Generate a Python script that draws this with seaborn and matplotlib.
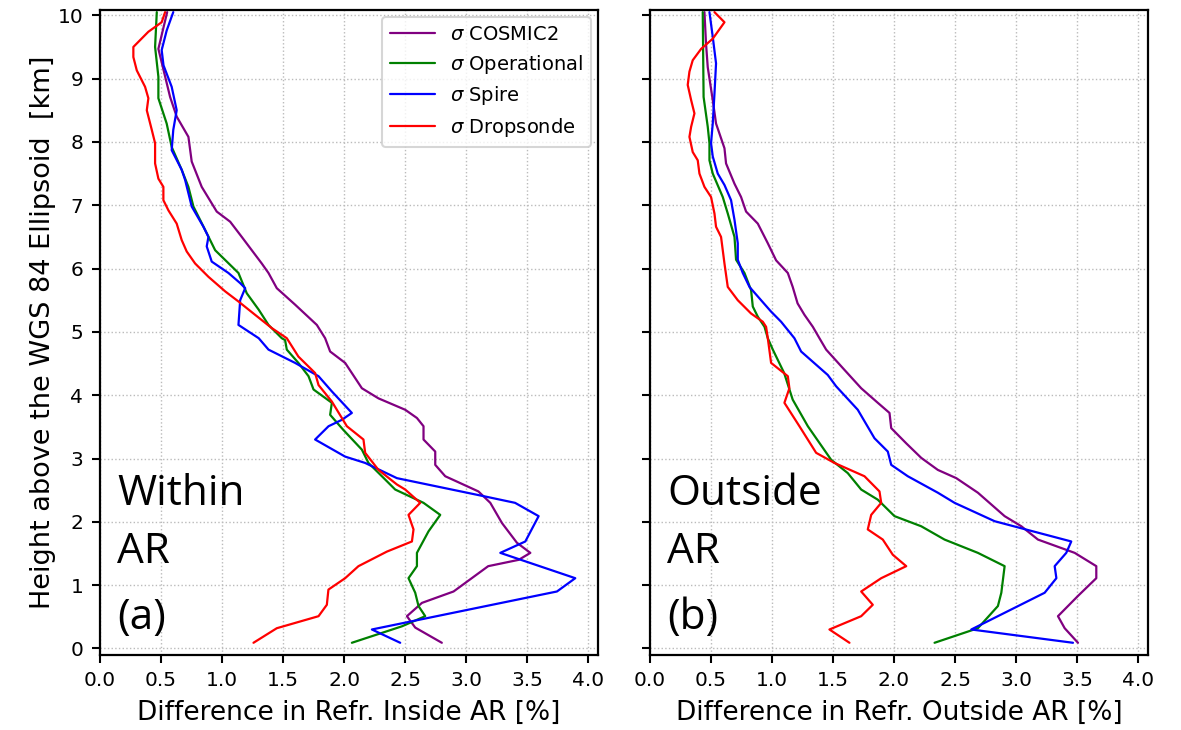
import numpy as np
import pandas as pd
import matplotlib
matplotlib.use("Agg")
import matplotlib.pyplot as plt
import seaborn as sns

# ---------------- data ----------------
series_names = [r"$\sigma$ COSMIC2", r"$\sigma$ Operational", r"$\sigma$ Spire", r"$\sigma$ Dropsonde"]
series_colors = ["purple", "green", "blue", "red"]

# Panel (a): inside AR
in_cosmic_x = [0.55, 0.478, 0.574, 0.628, 0.724, 0.751, 0.833, 0.956, 1.066, 1.161, 1.325, 1.38, 1.448,
               1.598, 1.776, 1.844, 1.885, 2.008, 2.145, 2.281, 2.5, 2.596, 2.65, 2.65, 2.746, 2.746,
               2.828, 3.10, 3.197, 3.293, 3.415, 3.525, 3.43, 3.18, 2.896, 2.637, 2.514, 2.582, 2.80]
in_cosmic_y = [10.05, 9.47, 8.71, 8.40, 8.08, 7.69, 7.29, 6.90, 6.74, 6.50, 6.08, 5.93, 5.69,
               5.43, 5.11, 4.90, 4.69, 4.51, 4.11, 3.95, 3.77, 3.64, 3.51, 3.30, 3.11, 2.90,
               2.72, 2.48, 2.30, 1.98, 1.67, 1.51, 1.40, 1.30, 0.90, 0.72, 0.51, 0.33, 0.09]

in_oper_x = [0.465, 0.451, 0.478, 0.478, 0.546, 0.587, 0.669, 0.724, 0.765, 0.861, 0.943, 1.134, 1.202,
             1.30, 1.38, 1.489, 1.516, 1.53, 1.625, 1.708, 1.749, 1.899, 1.885, 1.994, 2.145, 2.199,
             2.309, 2.418, 2.65, 2.787, 2.691, 2.596, 2.596, 2.527, 2.582, 2.609, 2.664, 2.473, 2.063]
in_oper_y = [10.05, 9.50, 9.03, 8.69, 8.29, 7.92, 7.56, 7.29, 6.98, 6.61, 6.29, 5.93, 5.61,
             5.35, 5.11, 4.90, 4.87, 4.72, 4.51, 4.30, 4.09, 3.88, 3.69, 3.45, 3.14, 2.93,
             2.72, 2.51, 2.30, 2.11, 1.85, 1.51, 1.30, 1.11, 0.88, 0.67, 0.51, 0.35, 0.09]

in_spire_x = [0.60, 0.546, 0.505, 0.52, 0.587, 0.628, 0.60, 0.587, 0.669, 0.697, 0.751, 0.847, 0.888,
              0.874, 0.915, 1.052, 1.148, 1.189, 1.148, 1.134, 1.30, 1.38, 1.598, 1.79, 1.899, 2.063,
              1.98, 1.872, 1.762, 2.008, 2.172, 2.432, 3.156, 3.40, 3.593, 3.484, 3.279, 3.893, 3.743,
              2.227, 2.459]
in_spire_y = [10.05, 9.76, 9.45, 9.21, 8.87, 8.50, 8.19, 7.87, 7.56, 7.40, 6.98, 6.66, 6.50,
              6.35, 6.11, 5.93, 5.77, 5.69, 5.50, 5.11, 4.90, 4.72, 4.51, 4.30, 4.06, 3.72,
              3.61, 3.51, 3.30, 3.03, 2.93, 2.69, 2.40, 2.30, 2.09, 1.69, 1.51, 1.11, 0.90,
              0.30, 0.09]

in_drop_x = [0.533, 0.505, 0.396, 0.273, 0.273, 0.301, 0.369, 0.396, 0.383, 0.424, 0.451, 0.451, 0.478,
             0.519, 0.519, 0.56, 0.628, 0.669, 0.71, 0.779, 0.888, 1.025, 1.134, 1.27, 1.407, 1.53,
             1.625, 1.762, 1.79, 1.899, 2.022, 2.158, 2.172, 2.281, 2.432, 2.50, 2.623, 2.527, 2.568,
             2.555, 2.35, 2.117, 2.008, 1.871, 1.858, 1.79, 1.448, 1.257]
in_drop_y = [10.05, 9.89, 9.74, 9.50, 9.34, 9.13, 8.87, 8.69, 8.50, 8.19, 7.98, 7.66, 7.42,
             7.29, 7.08, 6.92, 6.71, 6.45, 6.27, 6.08, 5.87, 5.64, 5.48, 5.27, 5.06, 4.90,
             4.61, 4.35, 4.16, 3.90, 3.51, 3.30, 3.09, 2.82, 2.59, 2.51, 2.30, 2.11, 1.88,
             1.69, 1.53, 1.30, 1.11, 0.93, 0.69, 0.51, 0.32, 0.09]

# Panel (b): outside AR
out_cosmic_x = [0.447, 0.46, 0.474, 0.515, 0.542, 0.611, 0.624, 0.693, 0.747, 0.788, 0.884, 0.966, 1.034,
                1.13, 1.17, 1.21, 1.266, 1.335, 1.389, 1.444, 1.594, 1.731, 1.867, 1.963, 1.977, 2.10,
                2.223, 2.359, 2.51, 2.687, 2.906, 3.043, 3.179, 3.48, 3.657, 3.657, 3.507, 3.343, 3.398,
                3.507]
out_cosmic_y = [10.05, 9.55, 9.18, 8.66, 8.29, 7.90, 7.66, 7.34, 7.13, 6.90, 6.71, 6.40, 6.13,
                5.93, 5.71, 5.45, 5.27, 5.08, 4.90, 4.72, 4.40, 4.11, 3.88, 3.72, 3.48, 3.24,
                3.01, 2.82, 2.69, 2.46, 2.09, 1.93, 1.72, 1.51, 1.30, 1.11, 0.83, 0.51, 0.32,
                0.09]

out_oper_x = [0.433, 0.44, 0.474, 0.488, 0.488, 0.515, 0.597, 0.638, 0.693, 0.706, 0.775, 0.829, 0.843,
              0.884, 0.939, 0.966, 1.007, 1.10, 1.17, 1.294, 1.485, 1.621, 1.731, 1.867, 2.004, 2.223,
              2.414, 2.687, 2.906, 2.879, 2.851, 2.687, 2.332]
out_oper_y = [10.05, 8.71, 8.24, 7.98, 7.71, 7.50, 7.13, 6.87, 6.50, 6.14, 5.93, 5.66, 5.40,
              5.24, 5.08, 4.90, 4.72, 4.35, 3.93, 3.51, 2.98, 2.77, 2.51, 2.35, 2.09, 1.93,
              1.72, 1.51, 1.30, 0.88, 0.67, 0.32, 0.09]

out_spire_x = [0.488, 0.515, 0.542, 0.529, 0.515, 0.501, 0.515, 0.556, 0.611, 0.665, 0.693, 0.72, 0.72,
               0.761, 0.816, 0.911, 0.993, 1.075, 1.184, 1.239, 1.457, 1.526, 1.703, 1.84, 1.949, 1.977,
               2.113, 2.359, 2.496, 2.824, 3.452, 3.411, 3.316, 3.33, 3.234, 2.633, 3.466]
out_spire_y = [10.05, 9.66, 9.24, 8.76, 8.29, 7.98, 7.77, 7.50, 7.32, 7.08, 6.77, 6.40, 6.14,
               5.93, 5.71, 5.50, 5.32, 5.16, 4.90, 4.69, 4.32, 4.14, 3.77, 3.32, 3.11, 2.90,
               2.72, 2.46, 2.30, 2.01, 1.69, 1.51, 1.30, 1.11, 0.88, 0.30, 0.09]

out_drop_x = [0.529, 0.611, 0.515, 0.42, 0.351, 0.324, 0.31, 0.338, 0.365, 0.338, 0.324, 0.351, 0.392,
              0.406, 0.447, 0.501, 0.529, 0.542, 0.583, 0.611, 0.638, 0.72, 0.829, 0.925, 0.952, 0.966,
              0.993, 1.13, 1.143, 1.102, 1.225, 1.362, 1.512, 1.758, 1.881, 1.895, 1.813, 1.785, 1.908,
              1.99, 2.10, 1.895, 1.731, 1.826, 1.731, 1.471, 1.635]
out_drop_y = [10.05, 9.89, 9.63, 9.47, 9.29, 9.11, 8.90, 8.66, 8.45, 8.24, 8.08, 7.84, 7.71,
              7.50, 7.29, 7.13, 6.87, 6.66, 6.50, 6.08, 5.71, 5.50, 5.29, 5.16, 5.08, 4.90,
              4.51, 4.30, 4.11, 3.88, 3.51, 3.09, 2.93, 2.72, 2.48, 2.30, 2.11, 1.88, 1.72,
              1.48, 1.30, 1.11, 0.90, 0.69, 0.51, 0.30, 0.09]

x_ticks = [0.0, 0.5, 1.0, 1.5, 2.0, 2.5, 3.0, 3.5, 4.0]
y_ticks = list(range(0, 11))
x_labels = ["Difference in Refr. Inside AR [%]", "Difference in Refr. Outside AR [%]"]
y_label = "Height above the WGS 84 Ellipsoid  [km]"
panel_texts = [["Within", "AR", "(a)"], ["Outside", "AR", "(b)"]]


def make_df(xs, ys):
    frames = []
    for name, x, y in zip(series_names, xs, ys):
        frames.append(pd.DataFrame({"value": x, "height": y, "series": name}))
    return pd.concat(frames, ignore_index=True)


df_in = make_df([in_cosmic_x, in_oper_x, in_spire_x, in_drop_x],
                [in_cosmic_y, in_oper_y, in_spire_y, in_drop_y])
df_out = make_df([out_cosmic_x, out_oper_x, out_spire_x, out_drop_x],
                 [out_cosmic_y, out_oper_y, out_spire_y, out_drop_y])

# ---------------- style ----------------
sns.set_style("ticks", {
    "axes.grid": True,
    "grid.linestyle": ":",
    "grid.color": "#bbbbbb",
    "axes.edgecolor": "black",
})
plt.rcParams["font.family"] = ["DejaVu Sans"]
plt.rcParams["text.color"] = "black"
plt.rcParams["axes.labelcolor"] = "black"
plt.rcParams["xtick.color"] = "black"
plt.rcParams["ytick.color"] = "black"
plt.rcParams["axes.linewidth"] = 1.6
plt.rcParams["grid.linewidth"] = 1.0
plt.rcParams["xtick.major.width"] = 1.5
plt.rcParams["ytick.major.width"] = 1.5
plt.rcParams["xtick.major.size"] = 6
plt.rcParams["ytick.major.size"] = 6

fig, axes = plt.subplots(1, 2, figsize=(11.81, 7.30), dpi=100, sharey=True)
fig.subplots_adjust(left=0.0847, right=0.972, bottom=0.103, top=0.986, wspace=0.104)

palette = dict(zip(series_names, series_colors))
txt_family = ["Open Sans", "DejaVu Sans"]

for i, (ax, df) in enumerate(zip(axes, [df_in, df_out])):
    sns.lineplot(data=df, x="value", y="height", hue="series", palette=palette,
                 hue_order=series_names, sort=False, estimator=None, units="series",
                 linewidth=1.6, ax=ax, legend=(i == 0))
    ax.set_xlim(0, 4.08)
    ax.set_ylim(-0.1, 10.08)
    ax.set_xticks(x_ticks)
    ax.set_xticklabels([f"{t:.1f}" for t in x_ticks])
    ax.set_yticks(y_ticks)
    ax.tick_params(axis="both", labelsize=14.5, direction="out", colors="black", pad=6)
    ax.set_xlabel(x_labels[i], fontsize=19, labelpad=7)
    ax.grid(True, linestyle=":", color="#bbbbbb", linewidth=1.0)
    for sp in ax.spines.values():
        sp.set_visible(True)
        sp.set_color("black")
        sp.set_linewidth(1.6)
    t1, t2, t3 = panel_texts[i]
    ax.text(0.14, 2.27, t1, fontsize=30.5, family=txt_family, va="baseline", color="black")
    ax.text(0.14, 1.35, t2, fontsize=30.5, family=txt_family, va="baseline", color="black")
    ax.text(0.14, 0.30, t3, fontsize=30.5, family=txt_family, va="baseline", color="black")

axes[0].set_ylabel(y_label, fontsize=19.5, labelpad=1)
axes[1].set_ylabel("")
axes[1].tick_params(axis="y", labelleft=False)

leg = axes[0].legend(loc="upper right", fontsize=14, frameon=True, handlelength=2.3,
                     borderaxespad=0.35, fancybox=True, labelspacing=0.45)
leg.get_frame().set_edgecolor("#cccccc")
leg.get_frame().set_linewidth(1.5)
for t in leg.get_texts():
    t.set_color("black")

fig.savefig("out.png", dpi=100)
